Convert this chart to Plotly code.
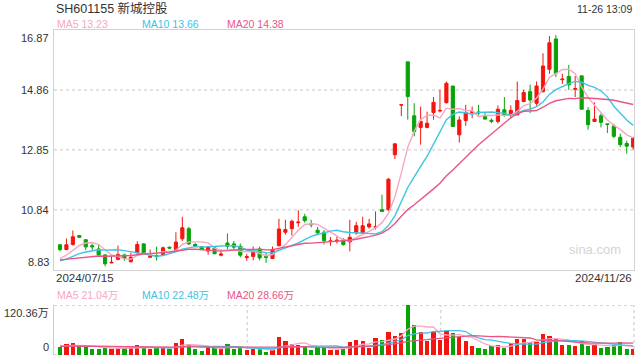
import numpy as np
import plotly.graph_objects as go

# ---------------- data ----------------
dates = ["2024/07/15", "2024/11/26"]
opens = [9.66, 9.50, 9.67, 9.97, 9.83, 9.63, 9.52, 9.32, 9.05, 9.17,
         9.32, 9.09, 9.39, 9.69, 9.24, 9.30, 9.33, 9.58, 9.50, 9.86,
         10.20, 9.67, 9.59, 9.45, 9.56, 9.31, 9.72, 9.69, 9.61, 9.23,
         9.27, 9.52, 9.27, 9.20, 9.63, 10.08, 10.20, 10.40, 10.60, 10.37,
         10.15, 10.08, 9.77, 9.79, 9.83, 9.76, 10.06, 10.06, 10.26, 10.25,
         10.84, 10.84, 12.68, 14.35, 15.80, 13.99, 13.60, 13.60, 14.10, 14.15,
         14.43, 14.99, 13.35, 13.83, 14.10, 14.12, 13.97, 13.84, 13.80, 14.19,
         14.02, 14.02, 14.47, 14.80, 14.41, 14.80, 15.55, 16.57, 15.20, 15.31,
         14.88, 15.33, 14.17, 13.80, 13.99, 13.72, 13.65, 13.27, 13.06, 12.94]
highs = [9.68, 9.87, 10.14, 9.99, 9.85, 9.70, 9.67, 9.33, 9.27, 9.63,
         9.36, 9.39, 9.78, 9.72, 9.50, 9.60, 9.60, 9.60, 10.08, 10.60,
         10.26, 9.72, 9.62, 9.62, 9.58, 9.50, 10.04, 9.79, 9.70, 9.35,
         9.60, 9.60, 9.39, 9.60, 10.53, 10.50, 10.50, 10.82, 10.70, 10.50,
         10.26, 10.15, 9.92, 9.94, 9.88, 10.50, 10.43, 10.60, 10.53, 10.78,
         11.34, 11.90, 13.05, 14.36, 15.80, 14.41, 14.30, 14.13, 14.62, 14.86,
         15.14, 14.99, 13.97, 14.36, 14.30, 14.36, 14.12, 13.90, 14.34, 14.62,
         14.34, 15.14, 14.86, 15.04, 15.14, 16.09, 16.67, 16.70, 15.40, 15.70,
         15.33, 15.33, 14.28, 14.44, 14.07, 13.72, 13.72, 13.39, 13.15, 13.28]
lows = [9.44, 9.48, 9.63, 9.89, 9.48, 9.48, 9.30, 8.94, 9.04, 9.14,
        9.12, 9.07, 9.36, 9.37, 9.23, 9.13, 9.30, 9.52, 9.48, 9.79,
        9.65, 9.59, 9.48, 9.33, 9.34, 9.27, 9.50, 9.50, 9.24, 9.12,
        9.14, 9.14, 9.05, 9.18, 9.60, 10.00, 9.97, 10.26, 10.40, 10.24,
        10.00, 9.67, 9.63, 9.70, 9.63, 9.44, 10.00, 10.00, 10.20, 10.17,
        10.76, 10.80, 12.54, 13.98, 13.86, 13.30, 13.02, 13.57, 13.86, 14.10,
        14.40, 13.63, 13.09, 13.65, 13.91, 14.00, 13.86, 13.74, 13.73, 13.96,
        13.89, 14.02, 14.44, 14.08, 14.33, 14.77, 15.40, 15.29, 15.06, 14.86,
        14.62, 14.21, 13.52, 13.80, 13.60, 13.41, 13.24, 12.94, 12.72, 12.85]
closes = [9.50, 9.66, 9.93, 9.91, 9.59, 9.59, 9.32, 9.02, 9.07, 9.33,
          9.20, 9.24, 9.67, 9.39, 9.27, 9.26, 9.56, 9.55, 9.75, 10.23,
          9.69, 9.61, 9.50, 9.59, 9.36, 9.35, 9.61, 9.58, 9.31, 9.26,
          9.44, 9.22, 9.24, 9.50, 10.19, 10.17, 10.45, 10.42, 10.47, 10.33,
          10.06, 9.80, 9.79, 9.81, 9.67, 9.91, 10.30, 10.30, 10.36, 10.27,
          10.78, 11.86, 13.05, 14.36, 14.64, 13.46, 13.80, 13.74, 14.44, 14.17,
          15.08, 13.63, 13.85, 14.10, 14.13, 14.09, 13.88, 13.80, 14.21, 14.02,
          14.17, 14.50, 14.77, 14.52, 14.99, 15.66, 16.44, 15.42, 15.22, 15.03,
          14.90, 14.21, 13.69, 13.88, 13.77, 13.70, 13.30, 13.02, 12.97, 13.24]
# volumes in 万 shares
volumes = [20, 25.7, 28, 20, 22, 14.5, 14.5, 17.6, 14.5, 17.6,
           16, 16, 24, 17.6, 14.5, 17.6, 17.6, 14.5, 29.6, 38.5,
           25.7, 14.5, 9.6, 20, 17.6, 14.5, 26.5, 14.5, 17.6, 12,
           14.5, 14.5, 7.2, 12, 43.3, 33.7, 25.7, 24, 20, 12,
           20, 16, 12, 12, 16, 31.3, 36.1, 33.7, 16, 40.1,
           36.1, 54.6, 45.7, 53.7, 120.36, 72.2, 56.2, 34.5, 56.2, 36.1,
           57.8, 53.7, 44.1, 33.7, 22.5, 17.6, 14.5, 22.5, 24, 17.6,
           28, 38.5, 38.5, 30.5, 31.3, 50.5, 45.7, 38.5, 24, 24,
           22, 33, 21, 26, 17.6, 19, 24, 32, 15, 15]
# closes / volumes before the visible window (needed for the moving averages)
prior_closes = [9.25, 9.30, 9.22, 9.18, 9.26, 9.20, 9.15, 9.10, 9.05, 9.12,
                9.08, 9.02, 8.98, 9.05, 9.10, 9.06, 9.14, 9.10, 9.18]
prior_volumes = [22, 19, 25, 20, 18, 24, 21, 19, 23, 20,
                 22, 18, 21, 24, 20, 19, 23, 21, 22]

price_ticks = [8.83, 10.84, 12.85, 14.86, 16.87]
vol_max = 120.36
ma_price_labels = ["MA5 13.23", "MA10 13.66", "MA20 14.38"]
ma_vol_labels = ["MA5 21.04万", "MA10 22.48万", "MA20 28.66万"]
title_text = "SH601155 新城控股"
time_text = "11-26 13:09"

# ---------------- styles ----------------
RED = "#f3160f"
GREEN = "#07a307"
C_MA5 = "#f8a6c3"
C_MA10 = "#40c4e4"
C_MA20 = "#ea5585"
MA_COLORS = [C_MA5, C_MA10, C_MA20]
FONT = "Liberation Sans, Arial, Noto Sans CJK SC, sans-serif"
TXT = "#333333"

n = len(closes)
x = list(range(n))


def moving_avg(prior, vals, k):
    full = np.array(prior + vals, dtype=float)
    out = []
    off = len(prior)
    for i in range(n):
        j = off + i
        out.append(full[j - k + 1:j + 1].mean())
    return out


fig = go.Figure()

fig.add_trace(go.Candlestick(
    x=x, open=opens, high=highs, low=lows, close=closes,
    increasing=dict(line=dict(color=RED, width=1), fillcolor=RED),
    decreasing=dict(line=dict(color=GREEN, width=1), fillcolor=GREEN),
    whiskerwidth=0, hoverinfo="skip", showlegend=False,
    xaxis="x", yaxis="y"))

for k, col in zip([5, 10, 20], MA_COLORS):
    fig.add_trace(go.Scatter(x=x, y=moving_avg(prior_closes, closes, k), mode="lines",
                             line=dict(color=col, width=1.4), hoverinfo="skip",
                             showlegend=False, xaxis="x", yaxis="y"))

bar_colors = [RED if c >= o else GREEN for o, c in zip(opens, closes)]
fig.add_trace(go.Bar(x=x, y=volumes, marker=dict(color=bar_colors, line=dict(width=0)),
                     width=0.66, hoverinfo="skip", showlegend=False,
                     xaxis="x2", yaxis="y2"))
for k, col in zip([5, 10, 20], MA_COLORS):
    fig.add_trace(go.Scatter(x=x, y=moving_avg(prior_volumes, volumes, k), mode="lines",
                             line=dict(color=col, width=1.3), hoverinfo="skip",
                             showlegend=False, xaxis="x2", yaxis="y2"))

W, H = 640, 360
xl, xr = 54, 634
main_top, main_bot = 30, 269.5
vol_top, vol_bot = 305, 355
xdom = [xl / W, xr / W]
xrange = [-0.93, 89.13]

fig.update_layout(
    width=W, height=H, margin=dict(l=0, r=0, t=0, b=0),
    paper_bgcolor="white", plot_bgcolor="white",
    font=dict(family=FONT, color=TXT, size=11),
    showlegend=False, bargap=0,
    xaxis=dict(domain=xdom, range=xrange, showgrid=False, zeroline=False,
               showticklabels=False, ticks="", showline=True, mirror=True,
               linecolor="#d2d2d2", linewidth=1, rangeslider=dict(visible=False),
               anchor="y"),
    yaxis=dict(domain=[1 - main_bot / H, 1 - main_top / H], range=[price_ticks[0], price_ticks[-1]],
               showgrid=False, zeroline=False, showticklabels=False, ticks="",
               showline=True, mirror=True, linecolor="#d2d2d2", linewidth=1, anchor="x"),
    xaxis2=dict(domain=xdom, range=xrange, showgrid=False, zeroline=False,
                showticklabels=False, ticks="", showline=False, anchor="y2"),
    yaxis2=dict(domain=[1 - vol_bot / H, 1 - vol_top / H], range=[0, vol_max],
                showgrid=False, zeroline=False, showticklabels=False, ticks="",
                showline=True, linecolor="#cccccc", linewidth=1, anchor="x2"),
)

shapes = []
GRID = "#e2e2e2"
for v in price_ticks[1:-1]:
    shapes.append(dict(type="line", xref="x domain", yref="y", x0=0, x1=1, y0=v, y1=v,
                       line=dict(color=GRID, width=2, dash="dot"), layer="below"))
for v in [0, vol_max]:
    shapes.append(dict(type="line", xref="x2 domain", yref="y2", x0=0, x1=1, y0=v, y1=v,
                       line=dict(color="#d6d6d6", width=2, dash="dot"), layer="below"))
for fx in [1 / 3, 2 / 3, 1]:
    shapes.append(dict(type="line", xref="x2 domain", yref="y2 domain", x0=fx, x1=fx, y0=0, y1=1,
                       line=dict(color="#d6d6d6", width=1.5, dash="dot"), layer="below"))
fig.update_layout(shapes=shapes)

ann = []


def px_ann(text, xpx, ypx, xanchor="left", size=11, color=TXT):
    ann.append(dict(text=text, x=xpx / W, y=1 - ypx / H, xref="paper", yref="paper",
                    xanchor=xanchor, yanchor="middle", showarrow=False,
                    font=dict(size=size, color=color, family=FONT)))


px_ann(title_text, 54, 8, size=12.5)
px_ann(time_text, 634, 9, xanchor="right", size=10.5)
for lbl, col, xp in zip(ma_price_labels, MA_COLORS, [55, 140, 225]):
    px_ann(lbl, xp, 24, size=10.5, color=col)
for lbl, col, xp in zip(ma_vol_labels, MA_COLORS, [55, 140, 225]):
    px_ann(lbl, xp, 295, size=10.5, color=col)

# price axis labels
for i, v in enumerate(price_ticks):
    if i == len(price_ticks) - 1:
        ya = "top"
    elif i == 0:
        ya = "bottom"
    else:
        ya = "middle"
    ann.append(dict(text=f"{v:.2f}", x=51 / W, y=v, xref="paper", yref="y",
                    xanchor="right", yanchor=ya, showarrow=False,
                    font=dict(size=11, color=TXT, family=FONT)))
# volume axis labels
ann.append(dict(text=f"{vol_max:.2f}万", x=51 / W, y=vol_max, xref="paper", yref="y2",
                xanchor="right", yanchor="top", showarrow=False,
                font=dict(size=11, color=TXT, family=FONT)))
ann.append(dict(text="0", x=51 / W, y=0, xref="paper", yref="y2",
                xanchor="right", yanchor="bottom", showarrow=False,
                font=dict(size=11, color=TXT, family=FONT)))
# dates
px_ann(dates[0], 54, 277.5, size=11.5)
px_ann(dates[1], 634, 277.5, xanchor="right", size=11.5)
# watermark
px_ann("sina.com", 623, 249, xanchor="right", size=13, color="#d4d4d4")

fig.update_layout(annotations=ann)
fig.write_html("out.html")
